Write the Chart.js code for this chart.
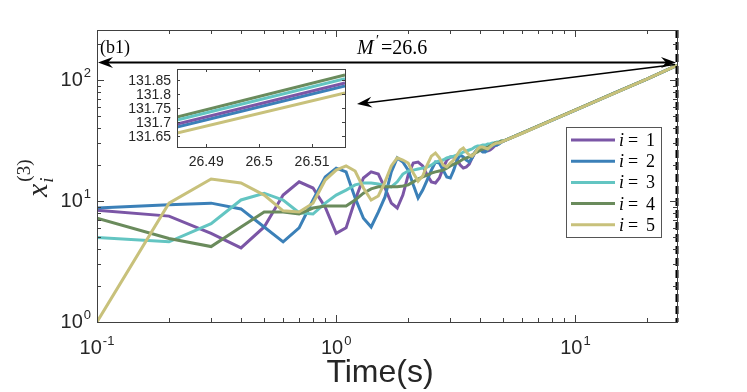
<!DOCTYPE html>
<html>
<head>
<meta charset="utf-8">
<script src="https://cdn.jsdelivr.net/npm/chart.js@4.4.1/dist/chart.umd.min.js"></script>
<style>
  html, body { margin: 0; padding: 0; background: #fff; }
  #wrap { position: relative; width: 747px; height: 392px; overflow: hidden; }
  #main { position: absolute; left: 0; top: 0; }
  #inset { position: absolute; left: 110px; top: 60px; }
</style>
</head>
<body>
<div id="wrap">
  <canvas id="main" width="747" height="392"></canvas>
  <canvas id="inset" width="250" height="115"></canvas>
</div>
<script>
// ---- donnees ----
const timeS = [0.1, 0.2, 0.3, 0.4, 0.5, 0.6, 0.7, 0.8, 0.9, 1.0,
  1.1, 1.2, 1.3, 1.4, 1.5, 1.6, 1.7, 1.8, 1.9, 2.0,
  2.1, 2.2, 2.3, 2.4, 2.5, 2.6, 2.7, 2.8, 2.9, 3.0,
  3.1, 3.2, 3.3, 3.4, 3.5, 3.6, 3.7, 3.8, 3.9, 4.0,
  4.1, 4.2, 4.3, 4.4, 4.5, 4.6, 4.7, 4.8, 4.9, 5.0,
  6, 8, 10, 15, 20, 26.6];

const x1 = [8.4, 7.5, 5.4, 4.1, 6.1, 11.2, 14.4, 12.8, 8.9, 5.4,
  6.0, 10.2, 15.5, 17.4, 16.7, 12.8, 9.6, 8.75, 11.2, 16.4,
  20.6, 21.0, 19.5, 16.4, 14.4, 14.1, 15.5, 18.7, 21.8, 23.1,
  23.1, 21.8, 19.8, 18.7, 19.1, 20.2, 22.7, 24.9, 26.4, 26.9,
  26.9, 26.4, 25.9, 26.4, 27.4, 28.5, 29.0, 30.2, 30.7, 31.3,
  36.5, 46.7, 56.5, 80.0, 102, 132.2];

const x2 = [8.75, 9.3, 9.6, 8.6, 6.1, 4.6, 6.0, 10.2, 15.8, 18.7,
  17.4, 10.6, 7.2, 6.1, 8.1, 10.8, 17.4, 22.7, 21.0, 18.0,
  13.6, 10.6, 12.3, 14.9, 18.0, 21.0, 20.6, 18.0, 15.8, 15.5,
  18.0, 21.8, 24.0, 23.1, 21.8, 21.0, 22.7, 25.4, 26.9, 26.4,
  25.4, 25.4, 26.4, 27.9, 28.5, 29.0, 29.0, 29.6, 30.7, 31.3,
  36.4, 46.6, 56.4, 79.9, 102, 132.1];

const x3 = [5.0, 4.6, 6.5, 10.2, 11.6, 10.2, 8.0, 7.8, 9.6, 11.2,
  12.3, 13.6, 14.1, 14.1, 13.8, 13.3, 13.1, 14.4, 16.7, 17.7,
  18.0, 18.4, 18.7, 19.1, 19.8, 21.0, 21.4, 21.8, 22.7, 23.1,
  23.5, 24.0, 24.5, 25.4, 25.9, 26.4, 26.9, 27.9, 28.5, 28.5,
  29.0, 29.0, 29.6, 29.6, 30.2, 30.2, 30.7, 30.7, 31.3, 31.3,
  36.5, 46.7, 56.5, 80.0, 102, 132.2];

const x4 = [7.2, 4.9, 4.2, 6.1, 8.1, 8.1, 7.8, 8.75, 9.1, 9.1,
  9.1, 10.2, 11.6, 12.6, 13.1, 13.1, 13.1, 13.1, 13.3, 13.6,
  14.4, 15.2, 15.8, 16.4, 17.0, 17.4, 17.7, 18.0, 18.7, 19.5,
  20.2, 20.6, 21.4, 22.2, 22.7, 23.1, 24.0, 24.9, 25.4, 26.4,
  26.9, 27.4, 27.9, 28.5, 29.0, 30.2, 30.2, 30.7, 31.3, 31.3,
  36.6, 46.8, 56.6, 80.1, 102, 132.3];

const x5 = [1.0, 9.6, 15.2, 14.1, 11.2, 8.3, 8.1, 9.6, 14.9, 18.0,
  19.5, 17.7, 12.8, 10.2, 11.0, 14.4, 19.5, 22.7, 21.8, 20.6,
  17.0, 14.6, 16.1, 19.8, 23.5, 24.9, 22.7, 19.8, 19.1, 20.6,
  21.8, 24.0, 26.4, 27.4, 25.4, 24.0, 23.5, 24.9, 26.9, 27.9,
  27.9, 27.4, 26.9, 27.9, 29.0, 29.6, 30.2, 30.2, 30.7, 31.3,
  36.3, 46.5, 56.3, 79.8, 102, 132.0];

// zoom (encart) autour de t = 26.5
const insetT = [26.4845, 26.5162];
const insetX1 = [131.693, 131.839];
const insetX2 = [131.682, 131.829];
const insetX3 = [131.707, 131.854];
const insetX4 = [131.718, 131.868];
const insetX5 = [131.661, 131.804];

const seriesIdx = [1, 2, 3, 4, 5];
const seriesColors = ['#7b56a6', '#3b80b8', '#63c5c2', '#6a8b5c', '#c8c17b'];

// graduations
const xMajorTicks = [0.1, 1, 10];
const xTickExp = ['-1', '0', '1'];
const xMinorTicks = [0.2, 0.3, 0.4, 0.5, 0.6, 0.7, 0.8, 0.9, 2, 3, 4, 5, 6, 7, 8, 9, 20];
const yMajorTicks = [1, 10, 100];
const yTickExp = ['0', '1', '2'];
const yMinorTicks = [2, 3, 4, 5, 6, 7, 8, 9, 20, 30, 40, 50, 60, 70, 80, 90, 200];
const insetYTicks = [131.65, 131.7, 131.75, 131.8, 131.85];
const insetYLabels = ['131.65', '131.7', '131.75', '131.8', '131.85'];
const insetXTicks = [26.49, 26.5, 26.51];
const insetXLabels = ['26.49', '26.5', '26.51'];

const mPrime = 26.6;      // ligne verticale
const arrowLevel = 141;   // hauteur de la double fleche

const fontSans = '"Liberation Sans", Arial, Helvetica, sans-serif';
const fontSerif = '"Liberation Serif", "DejaVu Serif", serif';
const axisColor = '#404040';
const textColor = '#262626';

// ---- helpers ----
function arrowHead(ctx, tx, ty, ang) {
    ctx.save();
    ctx.translate(tx, ty);
    ctx.rotate(ang);
    ctx.beginPath();
    ctx.moveTo(0, 0);
    ctx.lineTo(-15, -5.5);
    ctx.lineTo(-10, 0);
    ctx.lineTo(-15, 5.5);
    ctx.closePath();
    ctx.fill();
    ctx.restore();
}

function powLabel(ctx, exp, x, y, align) {
    ctx.font = '20px ' + fontSans;
    const w10 = ctx.measureText('10').width;
    ctx.font = '13px ' + fontSans;
    const wE = ctx.measureText(exp).width;
    const total = w10 + wE + 1;
    let x0 = align === 'right' ? x - total : x - total / 2;
    ctx.textAlign = 'left';
    ctx.textBaseline = 'alphabetic';
    ctx.font = '20px ' + fontSans;
    ctx.fillText('10', x0, y);
    ctx.font = '13px ' + fontSans;
    ctx.fillText(exp, x0 + w10 + 1, y - 9);
}

// ---- cadre et axes facon MATLAB ----
const mainFrame = {
    id: 'mainFrame',
    afterDraw(chart) {
        const { ctx, chartArea: a } = chart;
        const xs = chart.scales.x, ys = chart.scales.y;
        ctx.save();
        ctx.strokeStyle = axisColor;
        ctx.lineWidth = 1;
        ctx.beginPath();
        const tickX = (v, len) => {
            const px = Math.round(xs.getPixelForValue(v)) + 0.5;
            ctx.moveTo(px, a.bottom); ctx.lineTo(px, a.bottom - len);
            ctx.moveTo(px, a.top); ctx.lineTo(px, a.top + len);
        };
        const tickY = (v, len) => {
            const py = Math.round(ys.getPixelForValue(v)) + 0.5;
            ctx.moveTo(a.left, py); ctx.lineTo(a.left + len, py);
            ctx.moveTo(a.right, py); ctx.lineTo(a.right - len, py);
        };
        xMinorTicks.forEach(v => tickX(v, 4));
        xMajorTicks.forEach(v => tickX(v, 7));
        yMinorTicks.forEach(v => tickY(v, 4));
        yMajorTicks.forEach(v => tickY(v, 7));
        ctx.stroke();
        ctx.strokeRect(Math.round(a.left) + 0.5, Math.round(a.top) + 0.5,
            Math.round(a.right - a.left), Math.round(a.bottom - a.top));

        ctx.fillStyle = textColor;
        xMajorTicks.forEach((v, k) => powLabel(ctx, xTickExp[k], xs.getPixelForValue(v), a.bottom + 32, 'center'));
        yMajorTicks.forEach((v, k) => powLabel(ctx, yTickExp[k], a.left - 6, ys.getPixelForValue(v) + 6, 'right'));

        // titre axe x
        ctx.font = '32px ' + fontSans;
        ctx.textAlign = 'center';
        ctx.textBaseline = 'alphabetic';
        ctx.fillText('Time(s)', 380, 382);

        // titre axe y : x_i^(3)
        ctx.save();
        ctx.translate(47, 197);
        ctx.rotate(-Math.PI / 2);
        ctx.textAlign = 'left';
        ctx.font = 'italic 30px ' + fontSerif;
        ctx.fillText('x', 0, 0);
        const wx = ctx.measureText('x').width;
        ctx.font = '19px ' + fontSerif;
        ctx.fillText('(3)', wx + 2, -17);
        ctx.font = 'italic 19px ' + fontSerif;
        ctx.fillText('i', wx + 1, 6);
        ctx.restore();
        ctx.restore();
    }
};

// ---- annotations : fleches, ligne M', legende ----
const mainNotes = {
    id: 'mainNotes',
    afterDatasetsDraw(chart) {
        const { ctx, chartArea: a } = chart;
        const xs = chart.scales.x, ys = chart.scales.y;
        const xm = xs.getPixelForValue(mPrime);
        ctx.save();

        // ligne verticale tiretee en t = M'
        ctx.strokeStyle = '#000';
        ctx.lineWidth = 3;
        ctx.setLineDash([8, 4]);
        ctx.beginPath();
        ctx.moveTo(xm, a.top);
        ctx.lineTo(xm, a.bottom);
        ctx.stroke();
        ctx.setLineDash([]);

        // double fleche horizontale
        const yA = Math.round(ys.getPixelForValue(arrowLevel)) + 0.5;
        const xL = xs.getPixelForValue(0.1);
        ctx.fillStyle = '#000';
        ctx.lineWidth = 2;
        ctx.beginPath();
        ctx.moveTo(xL + 8, yA);
        ctx.lineTo(xm - 8, yA);
        ctx.stroke();
        arrowHead(ctx, xL + 1, yA, Math.PI);
        arrowHead(ctx, xm - 1, yA, 0);

        // fleche vers l'encart
        const sx = xm - 2, sy = yA + 2, ex = 357, ey = 104;
        const ang = Math.atan2(ey - sy, ex - sx);
        ctx.lineWidth = 1.5;
        ctx.beginPath();
        ctx.moveTo(sx, sy);
        ctx.lineTo(ex - 9 * Math.cos(ang), ey - 9 * Math.sin(ang));
        ctx.stroke();
        arrowHead(ctx, ex, ey, ang);

        // textes
        ctx.fillStyle = '#000';
        ctx.textBaseline = 'alphabetic';
        ctx.textAlign = 'left';
        ctx.font = '18px ' + fontSerif;
        ctx.fillText('(b1)', 100, 53);
        ctx.font = 'italic 20px ' + fontSerif;
        ctx.fillText('M', 357, 54);
        ctx.font = '14px ' + fontSerif;
        ctx.fillText('\u2032', 376, 45);
        ctx.font = '20px ' + fontSerif;
        ctx.fillText('=26.6', 381, 54);

        // legende
        const bx = 566.5, by = 127.5, bw = 95, bh = 110;
        ctx.fillStyle = '#fff';
        ctx.fillRect(bx, by, bw, bh);
        ctx.strokeStyle = '#555';
        ctx.lineWidth = 1;
        ctx.strokeRect(bx, by, bw, bh);
        seriesIdx.forEach((n, k) => {
            const ry = 140 + k * 21.2;
            ctx.strokeStyle = seriesColors[k];
            ctx.lineWidth = 3;
            ctx.beginPath();
            ctx.moveTo(571, ry);
            ctx.lineTo(615, ry);
            ctx.stroke();
            ctx.fillStyle = '#000';
            ctx.font = 'italic 18px ' + fontSerif;
            ctx.fillText('i', 619, ry + 6);
            ctx.font = '18px ' + fontSerif;
            ctx.fillText('=', 628, ry + 6);
            ctx.fillText(String(n), 646, ry + 6);
        });
        ctx.restore();
    }
};

const mainSets = [x1, x2, x3, x4, x5].map((arr, k) => ({
    label: 'i = ' + seriesIdx[k],
    data: timeS.map((t, j) => ({ x: t, y: arr[j] })),
    borderColor: seriesColors[k],
    borderWidth: 3,
    pointRadius: 0,
    tension: 0,
    fill: false,
    order: 4 - k
}));

new Chart(document.getElementById('main'), {
    type: 'line',
    data: { datasets: mainSets },
    options: {
        responsive: false,
        animation: false,
        layout: { padding: { left: 97, top: 30, right: 70, bottom: 70 } },
        plugins: { legend: { display: false }, tooltip: { enabled: false } },
        scales: {
            x: { type: 'logarithmic', min: 0.1, max: mPrime, display: false },
            y: { type: 'logarithmic', min: 1, max: 259, display: false }
        }
    },
    plugins: [mainNotes, mainFrame]
});

// ---- encart ----
const insetFrame = {
    id: 'insetFrame',
    beforeDatasetsDraw(chart) {
        const { ctx, chartArea: a } = chart;
        ctx.save();
        ctx.fillStyle = '#fff';
        ctx.fillRect(a.left, a.top, a.right - a.left, a.bottom - a.top);
        ctx.restore();
    },
    afterDraw(chart) {
        const { ctx, chartArea: a } = chart;
        const xs = chart.scales.x, ys = chart.scales.y;
        ctx.save();
        ctx.strokeStyle = axisColor;
        ctx.lineWidth = 1;
        ctx.beginPath();
        insetXTicks.forEach(v => {
            const px = Math.round(xs.getPixelForValue(v)) + 0.5;
            ctx.moveTo(px, a.bottom); ctx.lineTo(px, a.bottom - 3);
            ctx.moveTo(px, a.top); ctx.lineTo(px, a.top + 3);
        });
        insetYTicks.forEach(v => {
            const py = Math.round(ys.getPixelForValue(v)) + 0.5;
            ctx.moveTo(a.left, py); ctx.lineTo(a.left + 3, py);
            ctx.moveTo(a.right, py); ctx.lineTo(a.right - 3, py);
        });
        ctx.stroke();
        ctx.strokeRect(Math.round(a.left) + 0.5, Math.round(a.top) + 0.5,
            Math.round(a.right - a.left), Math.round(a.bottom - a.top));
        ctx.fillStyle = textColor;
        ctx.font = '14px ' + fontSans;
        ctx.textBaseline = 'middle';
        ctx.textAlign = 'right';
        insetYTicks.forEach((v, k) => ctx.fillText(insetYLabels[k], a.left - 6, ys.getPixelForValue(v) + 1));
        ctx.textAlign = 'center';
        insetXTicks.forEach((v, k) => ctx.fillText(insetXLabels[k], xs.getPixelForValue(v), a.bottom + 15));
        ctx.restore();
    }
};

const insetSets = [insetX1, insetX2, insetX3, insetX4, insetX5].map((arr, k) => ({
    label: 'i = ' + seriesIdx[k],
    data: insetT.map((t, j) => ({ x: t, y: arr[j] })),
    borderColor: seriesColors[k],
    borderWidth: 3,
    pointRadius: 0,
    fill: false
}));

new Chart(document.getElementById('inset'), {
    type: 'line',
    data: { datasets: insetSets },
    options: {
        responsive: false,
        animation: false,
        layout: { padding: { left: 67, top: 9, right: 15, bottom: 28 } },
        plugins: { legend: { display: false }, tooltip: { enabled: false } },
        scales: {
            x: { type: 'linear', min: 26.4845, max: 26.5162, display: false },
            y: { type: 'linear', min: 131.611, max: 131.889, display: false }
        }
    },
    plugins: [insetFrame]
});
</script>
</body>
</html>
